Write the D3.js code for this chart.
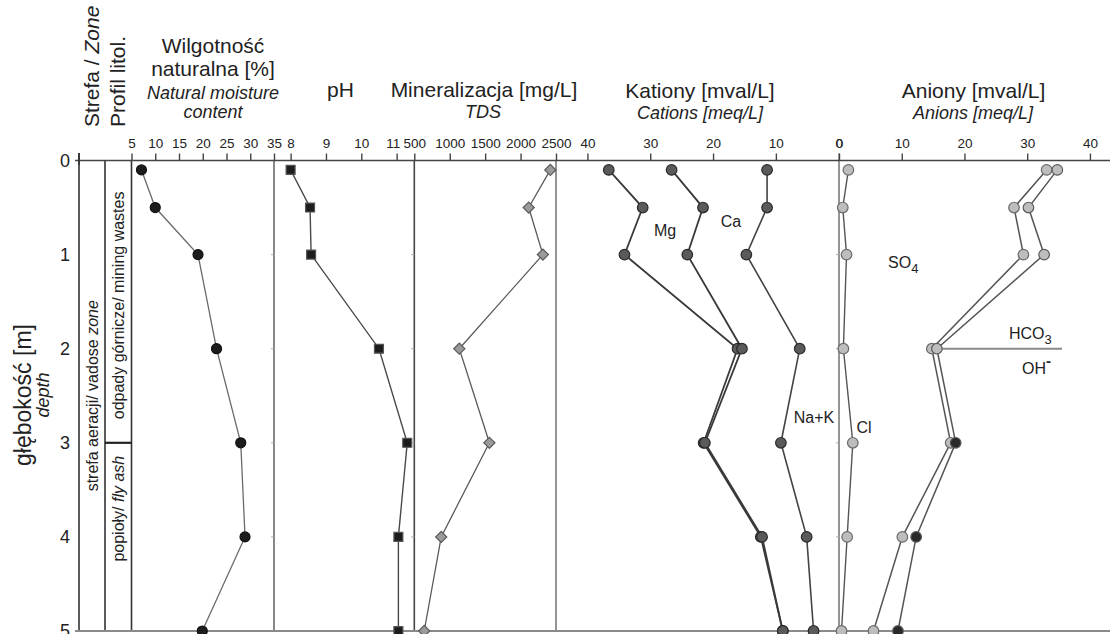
<!DOCTYPE html>
<html>
<head>
<meta charset="utf-8">
<script src="https://cdn.jsdelivr.net/npm/d3@7"></script>
<style>
  html, body { margin: 0; padding: 0; background: #fff; }
  svg { display: block; font-family: "Liberation Sans", Arial, sans-serif; }
</style>
</head>
<body>
<svg id="chart" width="1110" height="634"></svg>
<script>
// Sampling depths [m]
const depths = [0.1, 0.5, 1, 2, 3, 4, 5];

// Natural moisture content [%]
const moisture = [7.1, 10.0, 19.0, 22.9, 28.0, 28.9, 19.9];
// pH
const ph = [8.0, 8.55, 8.58, 10.5, 11.3, 11.05, 11.05];
// TDS [mg/L]
const tds = [2420, 2115, 2315, 1135, 1560, 880, 640];

// Cations [meq/L] (cumulative curves)
const mg = [36.6, 31.2, 34.1, 16.1, 21.5, 12.4, 8.9];
const ca = [26.6, 21.6, 24.1, 15.4, 21.3, 12.2, 8.9];
const naK = [11.4, 11.4, 14.7, 6.2, 9.2, 5.1, 4.0];

// Anions [meq/L] (cumulative curves)
const cl = [1.5, 0.6, 1.2, 0.7, 2.2, 1.3, 0.4];
const so4 = [33.1, 27.9, 29.4, 14.8, 17.8, 10.1, 5.5];
const hco3oh = [34.8, 30.2, 32.7, 15.6, 18.6, 12.3, 9.4];
const hco3ohBoundary = 2; // HCO3 above, OH- below

// Tick labels
const depthTicks = [0, 1, 2, 3, 4, 5];
const moistureTicks = [5, 10, 15, 20, 25, 30, 35];
const phTicks = [8, 9, 10, 11];
const tdsTicks = [500, 1000, 1500, 2000, 2500];
const cationTicks = [40, 30, 20, 10, 0];
const anionTicks = [0, 10, 20, 30, 40];

const svg = d3.select("#chart");

// Scales
const y = d3.scaleLinear().domain([0, 5]).range([160.5, 631]);
const xMoist = d3.scaleLinear().domain([5, 35]).range([131.5, 274]);
const xPh = d3.scaleLinear().domain([7.53, 11.5]).range([274, 414.3]);
const xTds = d3.scaleLinear().domain([500, 2500]).range([414.3, 556]);
const xCat = d3.scaleLinear().domain([45, 0]).range([556, 838.7]);
const xAn = d3.scaleLinear().domain([0, 43.2]).range([839, 1110]);

const yTop = y(0), yBot = y(5);

// ---- frame: panel separators ----
const frame = svg.append("g");
const vlines = [
  { x: 79, c: "#333", w: 1.6, top: 153 },
  { x: 105, c: "#333", w: 1.6, top: yTop },
  { x: 131.5, c: "#333", w: 1.6, top: yTop },
  { x: 274, c: "#555", w: 1.4, top: yTop },
  { x: 414.3, c: "#444", w: 1.6, top: yTop },
  { x: 556, c: "#8a8a8a", w: 1.8, top: yTop },
  { x: 839, c: "#8a8a8a", w: 1.8, top: yTop }
];
frame.selectAll("line.v").data(vlines).join("line")
  .attr("x1", d => d.x).attr("x2", d => d.x)
  .attr("y1", d => d.top).attr("y2", yBot)
  .attr("stroke", d => d.c).attr("stroke-width", d => d.w);

// lithology boundary at 3 m
frame.append("line")
  .attr("x1", 105).attr("x2", 131.5).attr("y1", y(3)).attr("y2", y(3))
  .attr("stroke", "#222").attr("stroke-width", 2.2);

// faint depth ticks on panel boundaries
[274, 414.3, 839].forEach(xp => {
  frame.selectAll(null).data([1, 2, 3, 4]).join("line")
    .attr("x1", xp - 3).attr("x2", xp)
    .attr("y1", d => y(d)).attr("y2", d => y(d))
    .attr("stroke", "#aaa").attr("stroke-width", 1);
});

// bottom and top horizontal lines
frame.append("line").attr("x1", 75).attr("x2", 1110).attr("y1", yBot).attr("y2", yBot)
  .attr("stroke", "#8a8a8a").attr("stroke-width", 2);
frame.append("line").attr("x1", 75).attr("x2", 1110).attr("y1", yTop).attr("y2", yTop)
  .attr("stroke", "#444").attr("stroke-width", 1.6);

// ---- top axes ----
function topAxis(scale, ticks) {
  const g = svg.append("g").attr("transform", `translate(0,${yTop})`)
    .call(d3.axisTop(scale).tickValues(ticks).tickSize(7).tickPadding(6).tickFormat(d3.format("d")));
  g.select(".domain").remove();
  g.selectAll(".tick line").attr("stroke", "#444").attr("stroke-width", 1.4);
  g.selectAll(".tick text").attr("fill", "#222").style("font-size", "13.5px")
    .style("font-family", "'Liberation Sans', Arial, sans-serif");
  return g;
}
topAxis(xMoist, moistureTicks);
const phAxis = topAxis(xPh, phTicks);
// last pH label sits slightly left so it clears the first TDS label
phAxis.selectAll(".tick text").filter(d => d === 11).attr("dx", -4);
topAxis(xTds, tdsTicks);
topAxis(xCat, cationTicks);
topAxis(xAn, anionTicks);

// depth axis
const yAx = svg.append("g").attr("transform", "translate(79,0)")
  .call(d3.axisLeft(y).tickValues(depthTicks).tickSize(0).tickPadding(9).tickFormat(d3.format("d")));
yAx.select(".domain").remove();
yAx.selectAll(".tick text").attr("fill", "#222").style("font-size", "18px")
  .style("font-family", "'Liberation Sans', Arial, sans-serif");
svg.append("line").attr("x1", 79).attr("x2", 79).attr("y1", 153).attr("y2", 165)
  .attr("stroke", "#333").attr("stroke-width", 1.6);

// ---- text helpers ----
function label(x, yb, parts, size, anchor, rotate) {
  const t = svg.append("text")
    .attr("fill", "#222")
    .style("font-size", size + "px")
    .attr("text-anchor", anchor || "middle");
  if (rotate) {
    t.attr("transform", `translate(${x},${yb}) rotate(-90)`);
  } else {
    t.attr("x", x).attr("y", yb);
  }
  parts.forEach(p => {
    const s = t.append("tspan").text(p.t);
    if (p.i) s.style("font-style", "italic");
    if (p.dy) s.attr("dy", p.dy);
    if (p.fs) s.style("font-size", p.fs + "px");
    if (p.fw) s.style("font-weight", p.fw);
  });
  return t;
}

// headers
label(99, 127, [{ t: "Strefa / " }, { t: "Zone", i: true }], 21, "start", true);
label(125, 127, [{ t: "Profil litol." }], 21, "start", true);

label(213, 53, [{ t: "Wilgotność" }], 21);
label(213, 76, [{ t: "naturalna [%]" }], 21);
label(213, 99, [{ t: "Natural moisture", i: true }], 18);
label(213, 118, [{ t: "content", i: true }], 18);

label(340.5, 97, [{ t: "pH" }], 21);
label(484, 97, [{ t: "Mineralizacja [mg/L]" }], 21);
label(483, 118, [{ t: "TDS", i: true }], 18);
label(700, 98, [{ t: "Kationy [mval/L]" }], 21);
label(700, 119, [{ t: "Cations [meq/L]", i: true }], 18);
label(973.5, 98, [{ t: "Aniony [mval/L]" }], 21);
label(973, 119, [{ t: "Anions [meq/L]", i: true }], 18);

// depth axis title
label(31, 395, [{ t: "głębokość [m]" }], 23, "middle", true);
label(49, 395, [{ t: "depth", i: true }], 18, "middle", true);

// zone / lithology column labels
label(98, y(2.5), [{ t: "strefa aeracji/ vadose " }, { t: "zone", i: true }], 16, "middle", true);
label(124, y(1.54), [{ t: "odpady górnicze/ mining wastes" }], 16, "middle", true);
label(124, y(3.7), [{ t: "popioły/ " }, { t: "fly ash", i: true }], 16, "middle", true);

// ---- data ----
const plot = svg.append("g");

function profile(values, xs, stroke, width) {
  const line = d3.line().x((d, i) => xs(values[i])).y((d, i) => y(depths[i]));
  plot.append("path").datum(depths)
    .attr("d", line).attr("fill", "none")
    .attr("stroke", stroke).attr("stroke-width", width);
}

// lines first
profile(moisture, xMoist, "#6a6a6a", 1.3);
profile(ph, xPh, "#4a4a4a", 1.4);
profile(tds, xTds, "#5a5a5a", 1.3);
profile(mg, xCat, "#3a3a3a", 1.8);
profile(ca, xCat, "#3a3a3a", 1.8);
profile(naK, xCat, "#444", 1.6);
profile(cl, xAn, "#555", 1.4);
profile(so4, xAn, "#555", 1.5);
profile(hco3oh, xAn, "#555", 1.5);

// HCO3 / OH- boundary
plot.append("line")
  .attr("x1", xAn(hco3oh[depths.indexOf(hco3ohBoundary)])).attr("x2", 1062)
  .attr("y1", y(hco3ohBoundary)).attr("y2", y(hco3ohBoundary))
  .attr("stroke", "#8a8a8a").attr("stroke-width", 2);

// markers
function circles(values, xs, r, fill, stroke, fillFn) {
  plot.append("g").selectAll("circle").data(values).join("circle")
    .attr("cx", d => xs(d)).attr("cy", (d, i) => y(depths[i]))
    .attr("r", r)
    .attr("fill", (d, i) => fillFn ? fillFn(i) : fill)
    .attr("stroke", stroke).attr("stroke-width", 1.2);
}
function symbols(values, xs, type, size, rot, fill, stroke) {
  const sym = d3.symbol().type(type).size(size);
  plot.append("g").selectAll("path").data(values).join("path")
    .attr("d", sym)
    .attr("transform", (d, i) => `translate(${xs(d)},${y(depths[i])}) rotate(${rot})`)
    .attr("fill", fill).attr("stroke", stroke).attr("stroke-width", 1.2);
}

circles(moisture, xMoist, 5, "#1c1c1c", "#111");
symbols(ph, xPh, d3.symbolSquare, 80, 0, "#1c1c1c", "#555");
symbols(tds, xTds, d3.symbolSquare, 62, 45, "#9a9a9a", "#5a5a5a");

circles(mg, xCat, 5.3, "#5a5a5a", "#2a2a2a");
circles(ca, xCat, 5.3, "#5a5a5a", "#2a2a2a");
circles(naK, xCat, 5.3, "#5a5a5a", "#2a2a2a");

circles(cl, xAn, 5.3, "#bdbdbd", "#6a6a6a");
circles(so4, xAn, 5.3, "#bdbdbd", "#6a6a6a");
circles(hco3oh, xAn, 5.3, "#bdbdbd", "#5a5a5a",
  i => depths[i] > hco3ohBoundary ? "#2a2a2a" : "#bdbdbd");

// ion labels
label(665, 236, [{ t: "Mg" }], 16);
label(731, 226.5, [{ t: "Ca" }], 16);
label(814, 422.5, [{ t: "Na+K" }], 16);
label(864, 433, [{ t: "Cl" }], 16);
label(888, 268, [{ t: "SO" }, { t: "4", dy: 5, fs: 13 }], 16, "start");
label(1009, 339, [{ t: "HCO" }, { t: "3", dy: 5, fs: 13 }], 16, "start");
label(1022, 374, [{ t: "OH" }, { t: "-", dy: -8, fs: 15, fw: "bold" }], 16, "start");
</script>
</body>
</html>
